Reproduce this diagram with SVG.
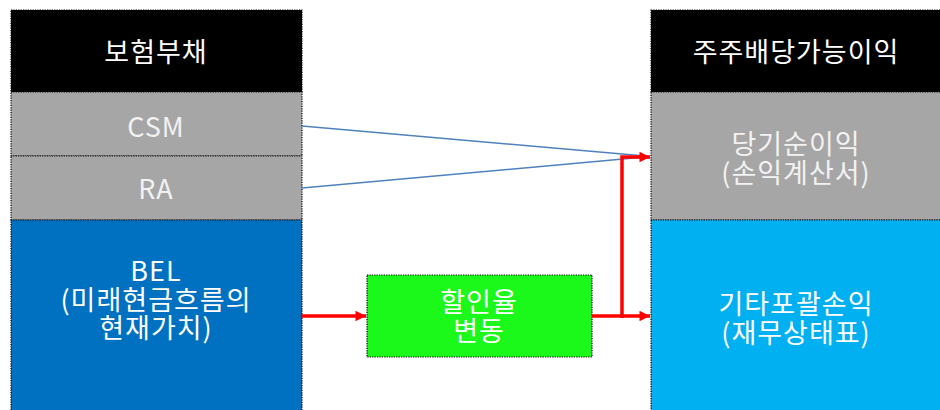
<svg xmlns="http://www.w3.org/2000/svg" width="940" height="410" viewBox="0 0 940 410">
<style>
.box{stroke:#000;stroke-width:1.2;stroke-dasharray:1.2,1.2}
.t{font-family:"Noto Sans CJK KR","Noto Sans",sans-serif;font-size:27px;font-weight:400;letter-spacing:1px;fill:#fff;text-anchor:middle}
.tl{font-family:"Noto Sans CJK KR","Noto Sans",sans-serif;font-size:27px;font-weight:400;letter-spacing:1px;fill:#f2f2f2;text-anchor:middle}
.red{stroke:#ff0000;stroke-width:3.5;fill:none}
.blue{stroke:#4f81bd;stroke-width:1.5;fill:none}
</style>
<defs>
<marker id="ah" viewBox="0 0 10 10" refX="10" refY="5" markerWidth="3.2" markerHeight="3" orient="auto" markerUnits="strokeWidth">
<path d="M0,0 L10,5 L0,10 Z" fill="#ff0000"/>
</marker>
</defs>
<rect width="940" height="410" fill="#fff"/>
<g id="liab-header"><rect class="box" x="11" y="10" width="291" height="82" fill="#000"/><text class="t" x="156" y="62">보험부채</text></g>
<g id="csm"><rect class="box" x="11" y="92" width="291" height="64" fill="#a6a6a6"/><text class="tl" x="156" y="137">CSM</text></g>
<g id="ra"><rect class="box" x="11" y="156" width="291" height="64" fill="#a6a6a6"/><text class="tl" x="156" y="199">RA</text></g>
<g id="bel"><rect class="box" x="11" y="220" width="291" height="200" fill="#0070c0"/>
<text class="t" x="156" y="281" letter-spacing="3">BEL</text>
<text class="t" x="156" y="310">(미래현금흐름의</text>
<text class="t" x="156" y="338">현재가치)</text></g>
<g id="profit-header"><rect class="box" x="651" y="10" width="300" height="82" fill="#000"/><text class="t" x="796" y="62">주주배당가능이익</text></g>
<g id="net-income"><rect class="box" x="651" y="92" width="300" height="128" fill="#a6a6a6"/>
<text class="tl" x="796" y="154">당기순이익</text>
<text class="tl" x="796" y="183">(손익계산서)</text></g>
<g id="oci"><rect class="box" x="651" y="220" width="300" height="200" fill="#00b0f0"/>
<text class="t" x="796" y="314">기타포괄손익</text>
<text class="t" x="796" y="343">(재무상태표)</text></g>
<g id="discount"><rect class="box" x="367" y="275" width="225" height="82" fill="#1af91a"/>
<text class="t" x="479" y="312">할인율</text>
<text class="t" x="479" y="341">변동</text></g>
<g id="connectors">
<path class="blue" d="M302,126 L645,156"/>
<path class="blue" d="M302,188 L645,157"/>
<path class="red" d="M302,316 L366,316" marker-end="url(#ah)"/>
<path class="red" d="M592,316 L650,316" marker-end="url(#ah)"/>
<path class="red" d="M622,318 L622,157 L650,157" marker-end="url(#ah)"/>
</g>
</svg>
